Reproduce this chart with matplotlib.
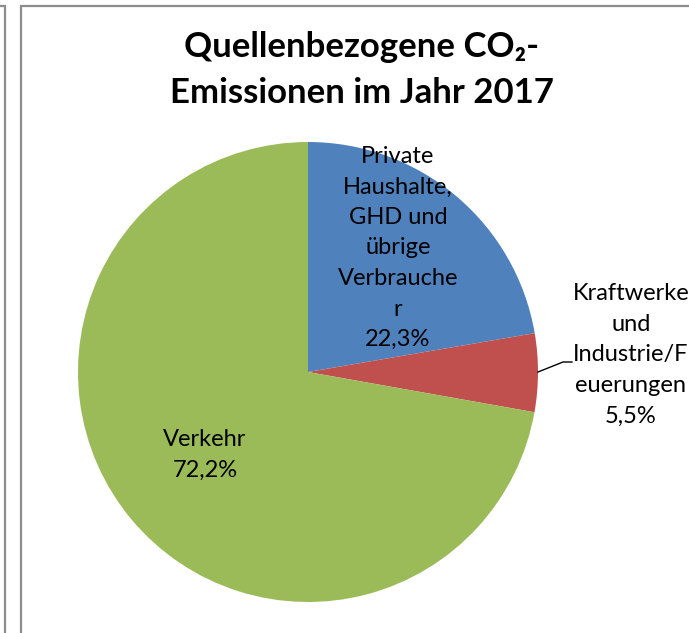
import matplotlib.pyplot as plt
from matplotlib.patches import Rectangle

plt.rcParams['font.family'] = ['Lato', 'DejaVu Sans']

labels = ['Private\nHaushalte,\nGHD und\nübrige\nVerbrauche\nr',
          'Kraftwerke\nund\nIndustrie/F\neuerungen',
          'Verkehr']
shares = [22.3, 5.5, 72.2]
colors = ['#4F81BD', '#C0504D', '#9BBB59']

fig = plt.figure(figsize=(6.89, 6.33), dpi=100)
ax = fig.add_axes([0, 0, 1, 1])

# frames (neighbouring chart on the left and this chart)
fig.patches.append(Rectangle((-0.05, -0.05), 0.057, 1.04, transform=fig.transFigure,
                             fill=False, edgecolor='#8c8c8c', lw=1.6))
fig.patches.append(Rectangle((0.031, -0.05), 1.1, 1.04, transform=fig.transFigure,
                             fill=False, edgecolor='#8c8c8c', lw=1.6))

ax.pie(shares, colors=colors, startangle=90, counterclock=False,
       center=(308, 261), radius=230, frame=True)
ax.set_xlim(0, 689)
ax.set_ylim(0, 633)
ax.axis('off')

fmt = lambda v: f'{v:.1f}%'.replace('.', ',')
fs = 17
ls = 1.56
ax.text(398, 633 - 248, labels[0] + '\n' + fmt(shares[0]), ha='center', va='center',
        fontsize=fs, linespacing=ls)
ax.text(631, 633 - 355, labels[1] + '\n' + fmt(shares[1]), ha='center', va='center',
        fontsize=fs, linespacing=ls, clip_on=False)
ax.text(205, 633 - 455, labels[2] + '\n' + fmt(shares[2]), ha='center', va='center',
        fontsize=fs, linespacing=ls)
ax.plot([538, 563, 572], [633 - 372, 633 - 362, 633 - 362], color='black', lw=1)

fig.text(362 / 689, 1 - 70 / 633, 'Quellenbezogene CO₂-\nEmissionen im Jahr 2017',
         ha='center', va='center', fontsize=25, fontweight='bold', linespacing=1.55)

fig.savefig('out.png', dpi=100)
